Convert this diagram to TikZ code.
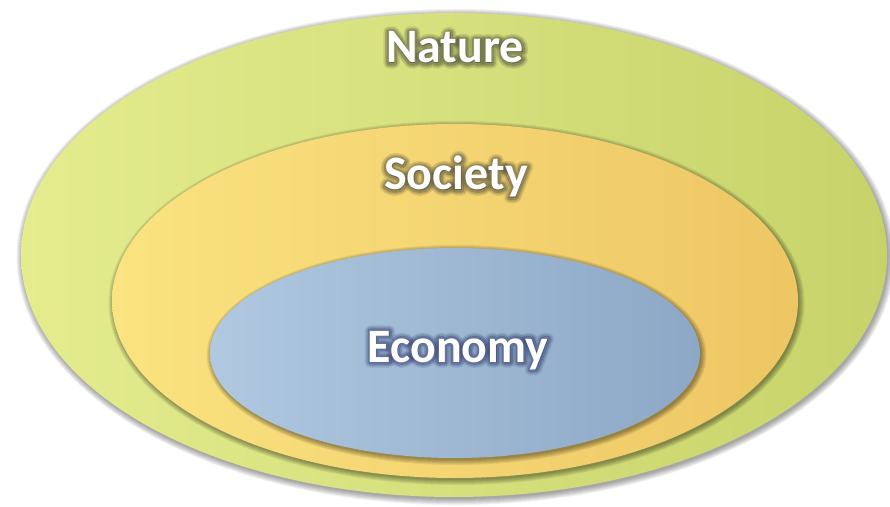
\documentclass[tikz,border=0pt]{standalone}
\usepackage{fontspec}
\setmainfont{Carlito}
\usetikzlibrary{shapes.geometric}
\definecolor{naturelight}{RGB}{228, 236, 142}
\definecolor{naturedark}{RGB}{199, 211, 106}
\definecolor{societylight}{RGB}{250, 227, 128}
\definecolor{societydark}{RGB}{238, 198, 100}
\definecolor{economylight}{RGB}{176, 200, 224}
\definecolor{economydark}{RGB}{140, 168, 198}
\definecolor{glowgray}{RGB}{70, 70, 55}
\definecolor{glowblue}{RGB}{45, 55, 105}
% outlined text for the halo behind the labels
\newcommand{\halotext}[2]{\special{pdf:literal 2 Tr #1 w 1 j}#2\special{pdf:literal 0 Tr}}
\tikzset{
  ring/.style={ellipse, inner sep=0pt, outer sep=0pt, shading=axis, shading angle=-60},
  ringlabel/.style={font=\bfseries\fontsize{48}{48}\selectfont, text=white, anchor=base, inner sep=0pt},
  halo/.style={ringlabel, text opacity=#1, opacity=#1}
}
\begin{document}
\begin{tikzpicture}[x=1pt, y=1pt]
  \useasboundingbox (0,0) rectangle (890,506);
  % soft shadows under the rings
  \foreach \r in {1,...,7} {
    \fill[black, opacity=0.06] (455.5,249) ellipse ({432+\r} and {241+\r});
  }
  \node[ring, minimum width=866pt, minimum height=484pt, left color=naturelight, right color=naturedark] (nature) at (454,251) {};
  \foreach \r in {1,...,6} {
    \fill[black, opacity=0.07] (456.5,203) ellipse ({342+\r} and {176+\r});
  }
  \node[ring, minimum width=686pt, minimum height=354pt, left color=societylight, right color=societydark] (society) at (455,205) {};
  \foreach \r in {1,...,6} {
    \fill[black, opacity=0.07] (456.5,151) ellipse ({244+\r} and {104+\r});
  }
  \node[ring, minimum width=490pt, minimum height=210pt, left color=economylight, right color=economydark] (economy) at (455,153) {};
  % glowing labels, widest halo first
  \foreach \w/\o in {11/0.15, 8/0.2, 5/0.3} {
    \node[halo=\o, text=glowgray] at (455,443) {\halotext{\w}{Nature}};
    \node[halo=\o, text=glowgray] at (456,316) {\halotext{\w}{Society}};
    \node[halo=\o, text=glowblue] at (458,144) {\halotext{\w}{Economy}};
  }
  \node[ringlabel] (naturetext) at (455,443) {Nature};
  \node[ringlabel] (societytext) at (456,316) {Society};
  \node[ringlabel] (economytext) at (458,144) {Economy};
\end{tikzpicture}
\end{document}
